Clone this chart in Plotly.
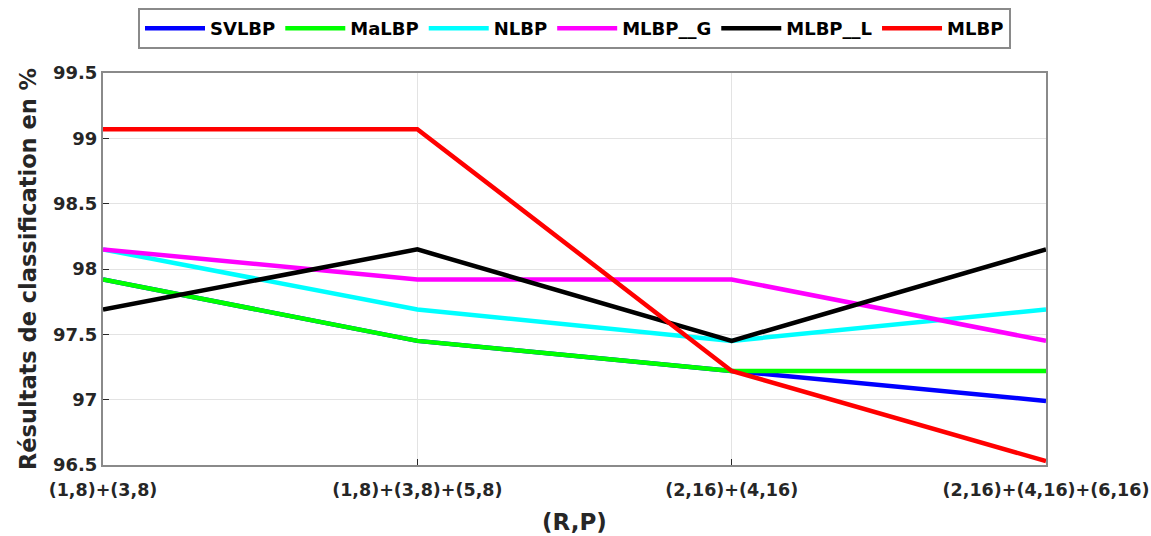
import plotly.graph_objects as go

# (R,P) neighbourhood combinations on the x axis
configs = ["(1,8)+(3,8)", "(1,8)+(3,8)+(5,8)", "(2,16)+(4,16)", "(2,16)+(4,16)+(6,16)"]

# Classification rates (%) per descriptor
svlbp = [97.92, 97.45, 97.22, 96.99]
malbp = [97.92, 97.45, 97.22, 97.22]
nlbp = [98.15, 97.69, 97.45, 97.69]
mlbp_g = [98.15, 97.92, 97.92, 97.45]
mlbp_l = [97.69, 98.15, 97.45, 98.15]
mlbp = [99.07, 99.07, 97.22, 96.53]

y_ticks = [96.5, 97, 97.5, 98, 98.5, 99, 99.5]

series = [
    ("SVLBP", svlbp, "#0000ff"),
    ("MaLBP", malbp, "#00ff00"),
    ("NLBP", nlbp, "#00ffff"),
    ("MLBP__G", mlbp_g, "#ff00ff"),
    ("MLBP__L", mlbp_l, "#000000"),
    ("MLBP", mlbp, "#ff0000"),
]

FONT = "DejaVu Sans, Liberation Sans, Arial, sans-serif"
TXT = "#262626"

fig = go.Figure()
xs = list(range(len(configs)))
for name, vals, color in series:
    fig.add_trace(go.Scatter(
        x=xs, y=vals, mode="lines", name=f"<b>{name}</b>",
        line=dict(color=color, width=4.5),
    ))

fig.update_layout(
    width=1151, height=536,
    margin=dict(l=103, r=105, t=73, b=71, autoexpand=False),
    paper_bgcolor="white", plot_bgcolor="white",
    font=dict(family=FONT, size=18, color=TXT),
    legend=dict(
        orientation="h", x=0.5, xanchor="center", y=1.061, yanchor="bottom",
        bordercolor="#8a8a8a", borderwidth=2, bgcolor="white",
        font=dict(family=FONT, size=18, color="#000000"),
        itemwidth=60, tracegroupgap=0,
    ),
    showlegend=True,
)

fig.update_xaxes(
    range=[0, 3], tickmode="array", tickvals=xs,
    ticktext=[f"<b>{c}</b>" for c in configs],
    ticklabeloverflow="allow", ticklabelstandoff=8, automargin=False,
    showgrid=True, gridcolor="#e3e3e3", gridwidth=1,
    showline=True, linecolor="#8a8a8a", linewidth=2, mirror=True,
    ticks="inside", ticklen=6, tickcolor=TXT,
    tickfont=dict(family=FONT, size=17.5, color=TXT),
    title=dict(text="<b>(R,P)</b>", font=dict(family=FONT, size=23, color=TXT), standoff=15),
    zeroline=False,
)
fig.update_yaxes(
    range=[96.5, 99.5], tickmode="array", tickvals=y_ticks,
    ticktext=[f"<b>{v:g}</b>" for v in y_ticks],
    automargin=False,
    showgrid=True, gridcolor="#e3e3e3", gridwidth=1,
    showline=True, linecolor="#8a8a8a", linewidth=2, mirror=True,
    ticks="inside", ticklen=6, tickcolor=TXT,
    tickfont=dict(family=FONT, size=18, color=TXT),
    title=dict(text="<b>Résultats de classification en %</b>", font=dict(family=FONT, size=22.5, color=TXT), standoff=10),
    zeroline=False,
)

fig.write_html("out.html")
